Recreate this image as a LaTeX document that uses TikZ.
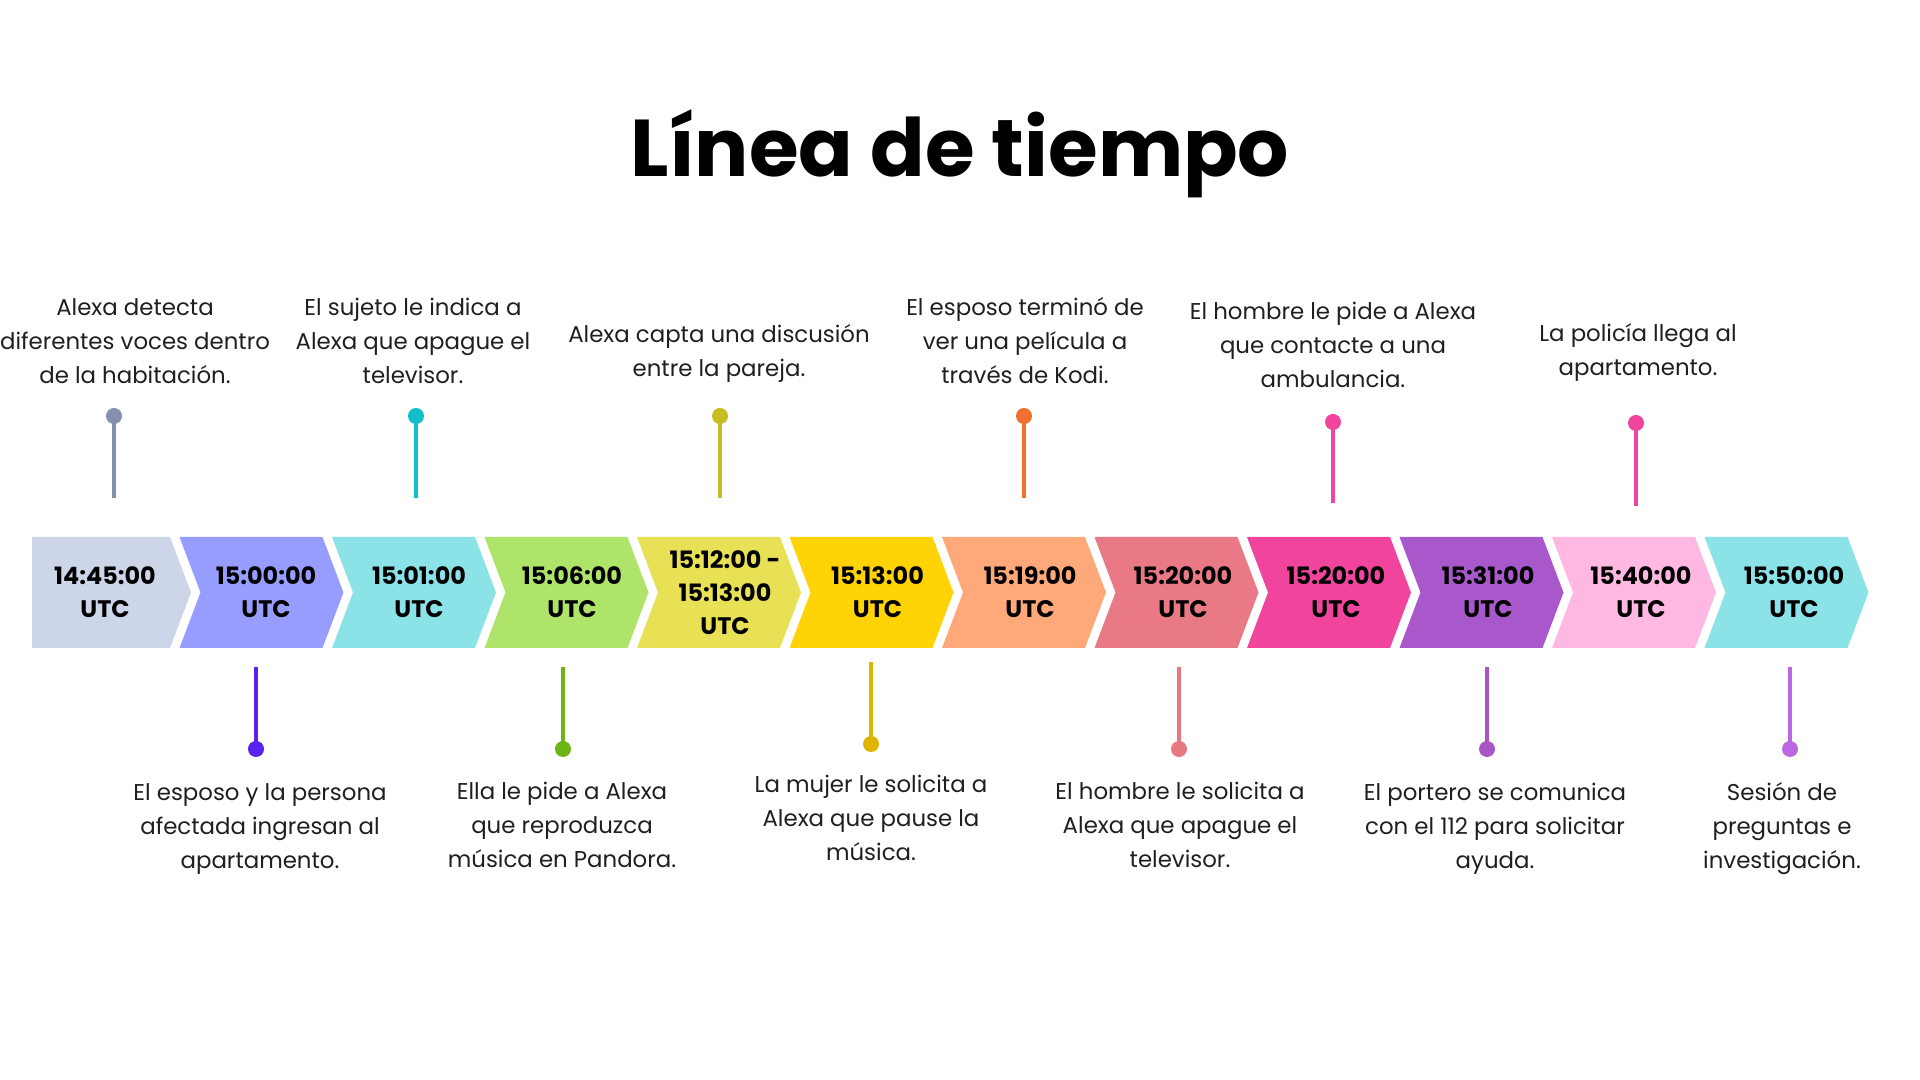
\documentclass[tikz,border=0pt]{standalone}
\usepackage{fontspec}
\setmainfont{Poppins}
\usepackage{tikz}
\definecolor{boxGray}{HTML}{CDD5E8}
\definecolor{boxPeri}{HTML}{979CFF}
\definecolor{boxCyan}{HTML}{8BE3E8}
\definecolor{boxGreen}{HTML}{AEE46A}
\definecolor{boxOlive}{HTML}{E8E155}
\definecolor{boxGold}{HTML}{FFD306}
\definecolor{boxSalmon}{HTML}{FFA87A}
\definecolor{boxRose}{HTML}{E87985}
\definecolor{boxPink}{HTML}{F0449D}
\definecolor{boxPurple}{HTML}{A958CB}
\definecolor{boxLight}{HTML}{FEB8E2}
\definecolor{pinGray}{HTML}{8490B0}
\definecolor{pinViolet}{HTML}{5A22F0}
\definecolor{pinCyan}{HTML}{12C0CC}
\definecolor{pinGreen}{HTML}{6DB516}
\definecolor{pinOlive}{HTML}{C4BE22}
\definecolor{pinGold}{HTML}{E0B400}
\definecolor{pinOrange}{HTML}{F07030}
\definecolor{pinRose}{HTML}{E8787F}
\definecolor{pinPink}{HTML}{F0449D}
\definecolor{pinPurple}{HTML}{A955C8}
\definecolor{pinLilac}{HTML}{BC66E0}
\tikzstyle{timeText}=[font = \bfseries\fontsize{6.8}{9.4}\selectfont, align = center, inner sep = 0pt]
\tikzstyle{eventText}=[font = \fontsize{6.5}{9.67}\selectfont, align = center, inner sep = 0pt, text = black!88]
\tikzstyle{pinDot}=[shape = circle, minimum size = 0.16cm, inner sep = 0pt, fill]
\tikzstyle{pinLine}=[line width = 0.04cm]

\begin{document}
\begin{tikzpicture}[x = 0.01cm, y = -0.01cm]
\useasboundingbox (0,0) rectangle (1920,1080);
\node[font = \bfseries\fontsize{22.9}{27}\selectfont, anchor = base] (title) at (960,177) {Línea de tiempo};
%
\fill[boxGray] (32,537) -- (170,537) -- (191,592.5) -- (170,648) -- (32,648) -- cycle;
\fill[boxPeri] (179.5,537) -- (322.5,537) -- (343.5,592.5) -- (322.5,648) -- (179.5,648) -- (200.5,592.5) -- cycle;
\fill[boxCyan] (332,537) -- (475,537) -- (496,592.5) -- (475,648) -- (332,648) -- (353,592.5) -- cycle;
\fill[boxGreen] (484.5,537) -- (627.5,537) -- (648.5,592.5) -- (627.5,648) -- (484.5,648) -- (505.5,592.5) -- cycle;
\fill[boxOlive] (637,537) -- (780,537) -- (801,592.5) -- (780,648) -- (637,648) -- (658,592.5) -- cycle;
\fill[boxGold] (789.5,537) -- (932.5,537) -- (953.5,592.5) -- (932.5,648) -- (789.5,648) -- (810.5,592.5) -- cycle;
\fill[boxSalmon] (942,537) -- (1085,537) -- (1106,592.5) -- (1085,648) -- (942,648) -- (963,592.5) -- cycle;
\fill[boxRose] (1094.5,537) -- (1237.5,537) -- (1258.5,592.5) -- (1237.5,648) -- (1094.5,648) -- (1115.5,592.5) -- cycle;
\fill[boxPink] (1247,537) -- (1390,537) -- (1411,592.5) -- (1390,648) -- (1247,648) -- (1268,592.5) -- cycle;
\fill[boxPurple] (1399.5,537) -- (1542.5,537) -- (1563.5,592.5) -- (1542.5,648) -- (1399.5,648) -- (1420.5,592.5) -- cycle;
\fill[boxLight] (1552,537) -- (1695,537) -- (1716,592.5) -- (1695,648) -- (1552,648) -- (1573,592.5) -- cycle;
\fill[boxCyan] (1704.5,537) -- (1847.5,537) -- (1868.5,592.5) -- (1847.5,648) -- (1704.5,648) -- (1725.5,592.5) -- cycle;
%
\node[timeText] (t0) at (105,592.5) {14:45:00\\UTC};
\node[timeText] (t1) at (266,592.5) {15:00:00\\UTC};
\node[timeText] (t2) at (419,592.5) {15:01:00\\UTC};
\node[timeText] (t3) at (572,592.5) {15:06:00\\UTC};
\node[timeText] (t4) at (725,592.5) {15:12:00 -\\15:13:00\\UTC};
\node[timeText] (t5) at (877.5,592.5) {15:13:00\\UTC};
\node[timeText] (t6) at (1030,592.5) {15:19:00\\UTC};
\node[timeText] (t7) at (1183,592.5) {15:20:00\\UTC};
\node[timeText] (t8) at (1336,592.5) {15:20:00\\UTC};
\node[timeText] (t9) at (1488,592.5) {15:31:00\\UTC};
\node[timeText] (t10) at (1641,592.5) {15:40:00\\UTC};
\node[timeText] (t11) at (1794,592.5) {15:50:00\\UTC};
%
\node[pinDot, pinGray] (d0) at (114,416) {};
\node[pinDot, pinViolet] (d1) at (256,749) {};
\node[pinDot, pinCyan] (d2) at (416,416) {};
\node[pinDot, pinGreen] (d3) at (563,749) {};
\node[pinDot, pinOlive] (d4) at (720,416) {};
\node[pinDot, pinGold] (d5) at (871,744) {};
\node[pinDot, pinOrange] (d6) at (1024,416) {};
\node[pinDot, pinRose] (d7) at (1179,749) {};
\node[pinDot, pinPink] (d8) at (1333,422) {};
\node[pinDot, pinPurple] (d9) at (1487,749) {};
\node[pinDot, pinPink] (d10) at (1636,423) {};
\node[pinDot, pinLilac] (d11) at (1790,749) {};
\coordinate (e0) at (114,498);
\coordinate (e1) at (256,667);
\coordinate (e2) at (416,498);
\coordinate (e3) at (563,667);
\coordinate (e4) at (720,498);
\coordinate (e5) at (871,662);
\coordinate (e6) at (1024,498);
\coordinate (e7) at (1179,667);
\coordinate (e8) at (1333,503);
\coordinate (e9) at (1487,667);
\coordinate (e10) at (1636,506);
\coordinate (e11) at (1790,667);
\draw[pinLine, pinGray] (d0.center) -- (e0);
\draw[pinLine, pinViolet] (d1.center) -- (e1);
\draw[pinLine, pinCyan] (d2.center) -- (e2);
\draw[pinLine, pinGreen] (d3.center) -- (e3);
\draw[pinLine, pinOlive] (d4.center) -- (e4);
\draw[pinLine, pinGold] (d5.center) -- (e5);
\draw[pinLine, pinOrange] (d6.center) -- (e6);
\draw[pinLine, pinRose] (d7.center) -- (e7);
\draw[pinLine, pinPink] (d8.center) -- (e8);
\draw[pinLine, pinPurple] (d9.center) -- (e9);
\draw[pinLine, pinPink] (d10.center) -- (e10);
\draw[pinLine, pinLilac] (d11.center) -- (e11);
%
\node[eventText] (v0) at (135,341) {Alexa detecta\\diferentes voces dentro\\de la habitación.};
\node[eventText] (v2) at (413,341) {El sujeto le indica a\\Alexa que apague el\\televisor.};
\node[eventText] (v4) at (719,353) {Alexa capta una discusión\\entre la pareja.};
\node[eventText] (v6) at (1025,341) {El esposo terminó de\\ver una película a\\través de Kodi.};
\node[eventText] (v8) at (1333,345) {El hombre le pide a Alexa\\que contacte a una\\ambulancia.};
\node[eventText] (v10) at (1638,353) {La policía llega al\\apartamento.};
\node[eventText] (v1) at (260,829) {El esposo y la persona\\afectada ingresan al\\apartamento.};
\node[eventText] (v3) at (562,825) {Ella le pide a Alexa\\que reproduzca\\música en Pandora.};
\node[eventText] (v5) at (871,818) {La mujer le solicita a\\Alexa que pause la\\música.};
\node[eventText] (v7) at (1180,825) {El hombre le solicita a\\Alexa que apague el\\televisor.};
\node[eventText] (v9) at (1495,829) {El portero se comunica\\con el 112 para solicitar\\ayuda.};
\node[eventText] (v11) at (1782,829) {Sesión de\\preguntas e\\investigación.};
%
\end{tikzpicture}
\end{document}
